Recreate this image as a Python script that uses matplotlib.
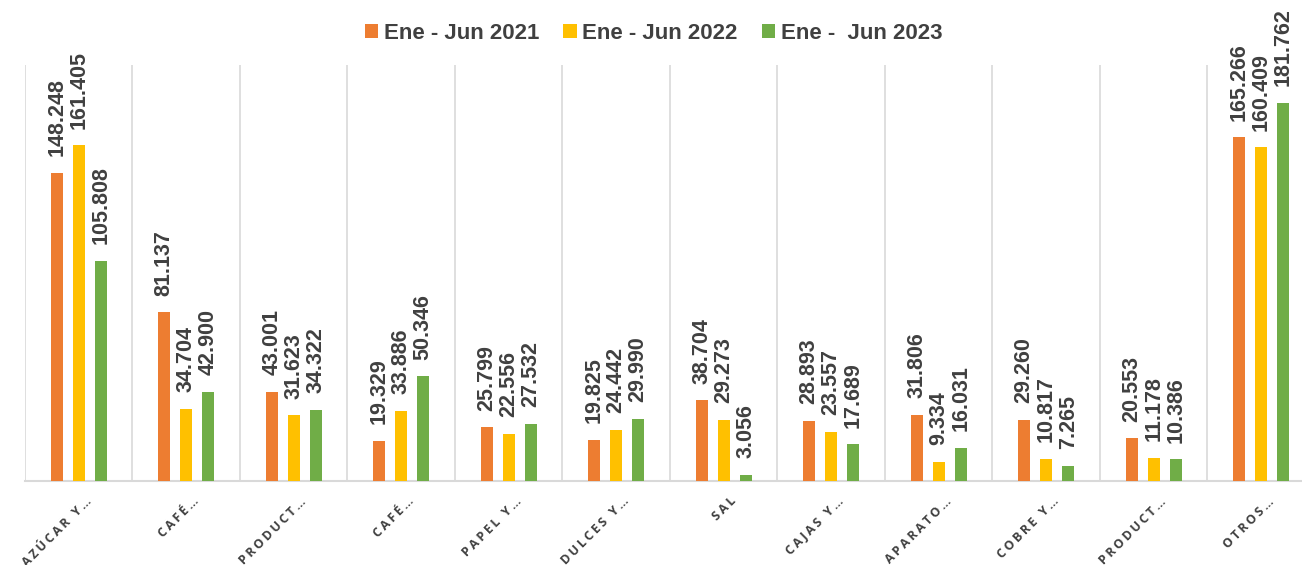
# Exportaciones por producto: comparación Ene - Jun 2021 / 2022 / 2023
import numpy as np
import matplotlib.pyplot as plt
from matplotlib.transforms import ScaledTranslation

# Datos
categorias = ['AZÚCAR Y…', 'CAFÉ…', 'PRODUCT…', 'CAFÉ…', 'PAPEL Y…', 'DULCES Y…',
              'SAL', 'CAJAS Y…', 'APARATO…', 'COBRE Y…', 'PRODUCT…', 'OTROS…']
serie_2021 = [148.248, 81.137, 43.001, 19.329, 25.799, 19.825, 38.704, 28.893, 31.806, 29.260, 20.553, 165.266]
serie_2022 = [161.405, 34.704, 31.623, 33.886, 22.556, 24.442, 29.273, 23.557, 9.334, 10.817, 11.178, 160.409]
serie_2023 = [105.808, 42.900, 34.322, 50.346, 27.532, 29.990, 3.056, 17.689, 16.031, 7.265, 10.386, 181.762]
nombres = ['Ene - Jun 2021', 'Ene - Jun 2022', 'Ene -  Jun 2023']

colores = ['#ED7D31', '#FFC000', '#70AD47']
gris = '#404040'

fig = plt.figure(figsize=(13.02, 5.65), dpi=100)
ax = fig.add_axes([25 / 1302, 84 / 565, 1277 / 1302, 416 / 565])

x = np.arange(len(categorias))
ancho = 0.112
paso = 0.205

for i, (serie, color, nombre) in enumerate(zip([serie_2021, serie_2022, serie_2023], colores, nombres)):
    pos = x + (i - 1) * paso
    ax.bar(pos, serie, width=ancho, color=color, label=nombre, zorder=3)
    for px, v in zip(pos, serie):
        ax.annotate(f'{v:.3f}', xy=(px, v), xytext=(0, 12), textcoords='offset points',
                    rotation=90, ha='center', va='bottom', fontsize=15.5, fontweight='bold',
                    color=gris, family='Liberation Sans', annotation_clip=False)

ax.set_xlim(-0.5, 11.38)
ax.set_ylim(0, 200)

# Líneas verticales entre categorías
for b in np.arange(-0.5, 12, 1):
    ax.axvline(b, color='#d9d9d9', lw=1.2, zorder=1)

for lado in ['top', 'right', 'left']:
    ax.spines[lado].set_visible(False)
ax.spines['bottom'].set_color('#d9d9d9')
ax.spines['bottom'].set_linewidth(1.5)
ax.set_yticks([])

# Etiquetas con espaciado entre letras
etiquetas = ['\u2009'.join(c) for c in categorias]
ax.set_xticks(x)
ax.set_xticklabels(etiquetas, rotation=45, ha='right', rotation_mode='anchor',
                   fontsize=9, fontweight='bold', color='#404040',
                   family=['Open Sans', 'DejaVu Sans'])
ax.tick_params(axis='x', length=0, pad=10)
desplazamiento = ScaledTranslation(6 / 100, 0, fig.dpi_scale_trans)
for lbl in ax.get_xticklabels():
    lbl.set_transform(lbl.get_transform() + desplazamiento)

leg = fig.legend(loc='upper center', bbox_to_anchor=(0.502, 0.995), ncol=3, frameon=False,
                 prop={'family': 'Liberation Sans', 'weight': 'bold', 'size': 16},
                 handlelength=0.6, handleheight=0.6, handletextpad=0.25, columnspacing=1.1)
for t in leg.get_texts():
    t.set_color(gris)

fig.savefig('out.png', dpi=100)
